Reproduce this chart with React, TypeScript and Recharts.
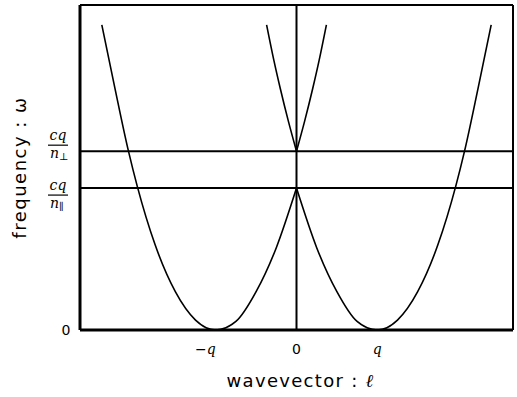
import { ComposedChart, Label, Line, ReferenceLine, XAxis, YAxis } from "recharts";

// wavevector l in units of q, frequency w in units of cq/n_par
const leftL = [-2.41, -2.25, -2.08, -1.97, -1.75, -1.5, -1.25, -1.0, -0.75, -0.5, -0.25, 0];
const leftW = [2.15, 1.71, 1.26, 1.01, 0.6, 0.27, 0.07, 0, 0.06, 0.27, 0.58, 1.0];
const rightL = [0, 0.25, 0.5, 0.75, 1.0, 1.25, 1.5, 1.75, 1.97, 2.08, 2.25, 2.41];
const rightW = [1.0, 0.58, 0.27, 0.06, 0, 0.07, 0.27, 0.6, 1.01, 1.26, 1.71, 2.15];
const midLeftL = [-0.37, -0.28, -0.2, -0.1, 0];
const midLeftW = [2.15, 1.9, 1.7, 1.47, 1.26];
const midRightL = [0, 0.1, 0.2, 0.28, 0.37];
const midRightW = [1.26, 1.47, 1.7, 1.9, 2.15];

const xTicks = [-1, 0, 1];
const xTickLabels = ["−q", "0", "q"];
const yTicks = [0, 1, 1.26];
const nPar = 1;
const nPerp = 1.26;

const rows = (ls: number[], ws: number[]) => ls.map((l, i) => ({ l, w: ws[i] }));

const curves = [
  rows(leftL, leftW),
  rows(rightL, rightW),
  rows(midLeftL, midLeftW),
  rows(midRightL, midRightW),
];

const sans = "DejaVu Sans";
const serif = "DejaVu Serif";

function XTick({ x, y, payload }: any) {
  const i = xTicks.indexOf(payload.value);
  const italic = payload.value !== 0;
  return (
    <text
      x={x}
      y={y + 16}
      textAnchor={payload.value < 0 ? "end" : "middle"}
      fontFamily={italic ? serif : sans}
      fontStyle={italic ? "italic" : "normal"}
      fontSize={14}
      fill="#000"
    >
      {xTickLabels[i]}
    </text>
  );
}

function YTick({ x, y, payload }: any) {
  if (payload.value === 0) {
    return (
      <text x={x - 6} y={y + 5} textAnchor="middle" fontFamily={sans} fontSize={14} fill="#000">
        0
      </text>
    );
  }
  const perp = payload.value === nPerp;
  const bar = perp ? y - 6 : y + 7;
  const cx = x - 14;
  return (
    <g fill="#000">
      <text x={cx} y={bar - 5} textAnchor="middle" fontFamily={serif} fontStyle="italic" fontSize={14}>
        cq
      </text>
      <line x1={cx - 10} x2={cx + 10} y1={bar} y2={bar} stroke="#000" strokeWidth={1.2} />
      <text x={cx - 8} y={bar + 13} fontFamily={serif} fontStyle="italic" fontSize={14}>
        n
        <tspan dy={2} fontStyle="normal" fontSize={10}>
          {perp ? "⊥" : "∥"}
        </tspan>
      </text>
    </g>
  );
}

function XTitle({ viewBox }: any) {
  return (
    <text
      x={viewBox.x + viewBox.width / 2 + 4}
      y={viewBox.y + 57}
      textAnchor="middle"
      fontFamily={sans}
      fontSize={18}
      letterSpacing={1.3}
      fill="#000"
    >
      wavevector :{" "}
      <tspan fontFamily={serif} fontStyle="italic">
        ℓ
      </tspan>
    </text>
  );
}

function YTitle({ viewBox }: any) {
  const cx = 26;
  const cy = viewBox.y + viewBox.height / 2;
  return (
    <text
      x={cx}
      y={cy}
      transform={`rotate(-90, ${cx}, ${cy})`}
      textAnchor="middle"
      fontFamily={sans}
      fontSize={18}
      letterSpacing={1.5}
      fill="#000"
    >
      frequency : ω
    </text>
  );
}

export default function App() {
  return (
    <div style={{ position: "absolute", left: 0, top: 0, background: "#fff" }}>
      <ComposedChart width={517} height={397} margin={{ top: 5, right: 4, left: 0, bottom: 0 }}>
        <XAxis
          type="number"
          dataKey="l"
          domain={[-2.68, 2.68]}
          ticks={xTicks}
          allowDataOverflow
          tickLine={false}
          axisLine={{ stroke: "#000", strokeWidth: 3 }}
          tick={<XTick />}
          height={67}
        >
          <Label content={<XTitle />} />
        </XAxis>
        <YAxis
          type="number"
          domain={[0, 2.29]}
          ticks={yTicks}
          allowDataOverflow
          tickLine={false}
          axisLine={{ stroke: "#000", strokeWidth: 3 }}
          tick={<YTick />}
          width={80}
        >
          <Label content={<YTitle />} />
        </YAxis>
        <ReferenceLine y={nPar} stroke="#000" strokeWidth={2} />
        <ReferenceLine y={nPerp} stroke="#000" strokeWidth={2} />
        <ReferenceLine x={0} stroke="#000" strokeWidth={2} />
        <ReferenceLine y={2.29} stroke="#000" strokeWidth={2} />
        <ReferenceLine x={2.68} stroke="#000" strokeWidth={2} />
        {curves.map((data, i) => (
          <Line
            key={i}
            data={data}
            dataKey="w"
            type="monotone"
            stroke="#000"
            strokeWidth={1.6}
            dot={false}
            isAnimationActive={false}
          />
        ))}
      </ComposedChart>
    </div>
  );
}
